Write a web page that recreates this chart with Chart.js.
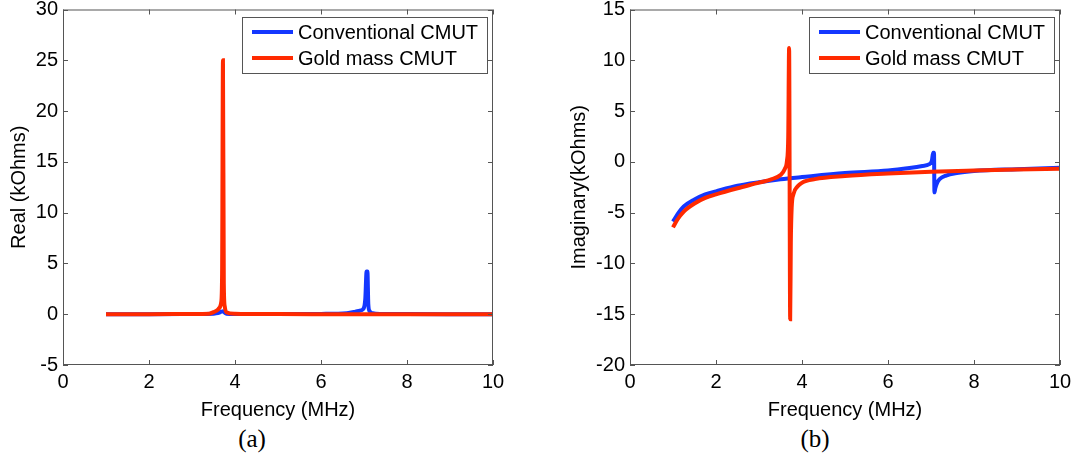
<!DOCTYPE html>
<html lang="en">
<head>
    <meta charset="UTF-8">
    <title>CMUT | Impedance</title>
    <script src="https://cdn.jsdelivr.net/npm/chart.js"></script>
    <style>
      body { margin: 0; background: #ffffff; }
      .pagina { position: relative; width: 1075px; height: 457px; overflow: hidden; }
      canvas { position: absolute; top: 0; }
      #graficoReal { left: 0; }
      #graficoImag { left: 560px; }
      .legenda {
        position: absolute; top: 425px; transform: translateX(-50%);
        font-family: "Liberation Serif", "Times New Roman", serif; font-size: 25px; color: #000;
      }
    </style>
</head>
<body>
  <div class="pagina">
    <canvas id="graficoReal" width="540" height="422"></canvas>
    <canvas id="graficoImag" width="515" height="422"></canvas>
    <div class="legenda" style="left: 252px;">(a)</div>
    <div class="legenda" style="left: 815px;">(b)</div>
  </div>

<script>
  // ---- dados (frequencia em MHz, impedancia em kOhms) ----
  const nomesSeries = ['Conventional CMUT', 'Gold mass CMUT'];

  // parte real - CMUT convencional
  const freqRealConv = [1.0, 2.0, 3.0, 3.5, 3.6, 3.68, 3.72, 3.76, 3.8, 4.0, 5.0, 6.0, 6.6, 6.8, 6.9, 6.98, 7.03, 7.06, 7.08, 7.1, 7.13, 7.2, 7.4, 8.0, 9.0, 10.0];
  const realConv     = [0.0, 0.0, 0.02, 0.05, 0.1, 0.25, 0.3, 0.15, 0.05, 0.02, 0.01, 0.03, 0.1, 0.25, 0.35, 0.5, 1.5, 4.2, 4.2, 1.0, 0.3, 0.1, 0.03, 0.01, 0.0, 0.0];

  // parte real - CMUT com massa de ouro
  const freqRealOuro = [1.0, 2.0, 3.0, 3.4, 3.5, 3.6, 3.65, 3.68, 3.70, 3.72, 3.74, 3.76, 3.8, 4.0, 5.0, 6.0, 7.0, 8.0, 9.0, 10.0];
  const realOuro     = [0.0, 0.0, 0.02, 0.05, 0.2, 0.45, 0.7, 1.2, 4.0, 25.0, 3.0, 0.8, 0.2, 0.05, 0.01, 0.0, 0.0, 0.0, 0.0, 0.0];

  // parte imaginaria - CMUT convencional
  const freqImagConv = [1.0, 1.1, 1.25, 1.5, 1.75, 2.0, 2.5, 3.0, 3.5, 4.0, 5.0, 6.0, 6.5, 6.8, 6.95, 7.02, 7.05, 7.07, 7.08, 7.1, 7.15, 7.2, 7.35, 7.6, 8.0, 9.0, 10.0];
  const imagConv     = [-5.88, -5.2, -4.4, -3.7, -3.2, -2.9, -2.35, -2.0, -1.72, -1.5, -1.1, -0.85, -0.6, -0.4, -0.25, 0.1, 0.9, 0.9, -3.0, -2.6, -2.0, -1.7, -1.35, -1.1, -0.9, -0.72, -0.58];

  // parte imaginaria - CMUT com massa de ouro
  const freqImagOuro = [1.0, 1.1, 1.25, 1.5, 1.75, 2.0, 2.5, 3.0, 3.3, 3.5, 3.6, 3.65, 3.68, 3.70, 3.725, 3.74, 3.76, 3.8, 3.9, 4.0, 4.3, 5.0, 6.0, 7.0, 8.0, 9.0, 10.0];
  const imagOuro     = [-6.45, -5.7, -4.9, -4.1, -3.55, -3.2, -2.6, -2.05, -1.7, -1.3, -0.7, 0.1, 2.5, 11.2, -15.5, -8.0, -4.5, -3.2, -2.4, -2.05, -1.7, -1.4, -1.15, -0.97, -0.85, -0.75, -0.68];

  // ticks dos eixos
  const ticksFreq = [0, 2, 4, 6, 8, 10];
  const ticksReal = [-5, 0, 5, 10, 15, 20, 25, 30];
  const ticksImag = [-20, -15, -10, -5, 0, 5, 10, 15];

  const corAzul = '#1437ff';
  const corVermelha = '#ff2a00';
  const corEixo = '#555555';
  const fonte = '"Liberation Sans", Arial, Helvetica, sans-serif';

  function pares(xs, ys) {
    let pontos = [];
    for (let i = 0; i < xs.length; i++) {
      pontos.push({ x: xs[i], y: ys[i] });
    }
    return pontos;
  }

  // caixa do eixo, marcas internas e legenda no canto (estilo MATLAB)
  const caixaPlugin = {
    id: 'caixa',
    afterDraw(chart) {
      const ctx = chart.ctx;
      const a = chart.chartArea;
      const sx = chart.scales.x;
      const sy = chart.scales.y;
      const tam = 5;

      ctx.save();
      ctx.strokeStyle = corEixo;
      ctx.lineWidth = 1;
      ctx.strokeRect(a.left + 0.5, a.top + 0.5, a.right - a.left - 1, a.bottom - a.top - 1);

      ctx.beginPath();
      chart.options.plugins.caixa.ticksX.forEach(function (v) {
        const px = Math.round(sx.getPixelForValue(v)) + 0.5;
        ctx.moveTo(px, a.bottom); ctx.lineTo(px, a.bottom - tam);
        ctx.moveTo(px, a.top); ctx.lineTo(px, a.top + tam);
      });
      chart.options.plugins.caixa.ticksY.forEach(function (v) {
        const py = Math.round(sy.getPixelForValue(v)) + 0.5;
        ctx.moveTo(a.left, py); ctx.lineTo(a.left + tam, py);
        ctx.moveTo(a.right, py); ctx.lineTo(a.right - tam, py);
      });
      ctx.stroke();

      // legenda
      const larg = 245, alt = 56;
      const lx = a.right - 6 - larg;
      const ly = Math.round(a.top + 7.5);
      ctx.fillStyle = '#ffffff';
      ctx.fillRect(lx, ly, larg, alt);
      ctx.strokeStyle = corEixo;
      ctx.strokeRect(lx + 0.5, ly + 0.5, larg, alt);

      ctx.font = '20px ' + fonte;
      ctx.textBaseline = 'middle';
      ctx.fillStyle = '#000000';
      const itens = [
        { texto: nomesSeries[0], cor: corAzul, y: ly + 15 },
        { texto: nomesSeries[1], cor: corVermelha, y: ly + 41 }
      ];
      itens.forEach(function (item) {
        ctx.strokeStyle = item.cor;
        ctx.lineWidth = 4;
        ctx.beginPath();
        ctx.moveTo(lx + 10, item.y);
        ctx.lineTo(lx + 51, item.y);
        ctx.stroke();
        ctx.fillText(item.texto, lx + 56, item.y + 1);
      });
      ctx.restore();
    }
  };

  function plotarGrafico(idCanvas, dadosConv, dadosOuro, yMin, yMax, ticksY, tituloY, larguraY, paddingDir) {
    // vermelho desenhado por cima do azul
    const dados = {
      datasets: [
        {
          label: nomesSeries[1],
          data: dadosOuro,
          borderColor: corVermelha,
          borderWidth: 4,
          pointRadius: 0,
          cubicInterpolationMode: 'monotone',
          fill: false
        },
        {
          label: nomesSeries[0],
          data: dadosConv,
          borderColor: corAzul,
          borderWidth: 4,
          pointRadius: 0,
          cubicInterpolationMode: 'monotone',
          fill: false
        }
      ]
    };

    const config = {
      type: 'line',
      data: dados,
      options: {
        responsive: false,
        animation: false,
        layout: { padding: { top: 9.5, right: paddingDir, bottom: 0, left: 0 } },
        plugins: {
          legend: { display: false },
          tooltip: { enabled: false },
          caixa: { ticksX: ticksFreq, ticksY: ticksY }
        },
        scales: {
          x: {
            type: 'linear',
            min: 0,
            max: 10,
            grid: { display: false, drawTicks: false },
            border: { display: false },
            afterBuildTicks: function (s) { s.ticks = ticksFreq.map(v => ({ value: v })); },
            afterFit: function (s) { s.height = 57; s.paddingLeft = 0; s.paddingRight = 0; },
            ticks: { padding: 5, color: '#000', maxRotation: 0, font: { family: fonte, size: 20 } },
            title: {
              display: true, text: 'Frequency (MHz)', color: '#000',
              font: { family: fonte, size: 20 }, padding: { top: 0, bottom: 0 }
            }
          },
          y: {
            min: yMin,
            max: yMax,
            grid: { display: false, drawTicks: false },
            border: { display: false },
            afterBuildTicks: function (s) { s.ticks = ticksY.map(v => ({ value: v })); },
            afterFit: function (s) { s.width = larguraY; s.paddingTop = 0; s.paddingBottom = 0; },
            ticks: { padding: 5, color: '#000', font: { family: fonte, size: 20 } },
            title: {
              display: true, text: tituloY, color: '#000',
              font: { family: fonte, size: 20 }, padding: { top: 7, bottom: 0 }
            }
          }
        }
      },
      plugins: [caixaPlugin]
    };

    return new Chart(document.getElementById(idCanvas), config);
  }

  plotarGrafico('graficoReal', pares(freqRealConv, realConv), pares(freqRealOuro, realOuro),
    -5, 30, ticksReal, 'Real (kOhms)', 63, 47);
  plotarGrafico('graficoImag', pares(freqImagConv, imagConv), pares(freqImagOuro, imagOuro),
    -20, 15, ticksImag, 'Imaginary(kOhms)', 70, 15);
</script>
</body>
</html>
